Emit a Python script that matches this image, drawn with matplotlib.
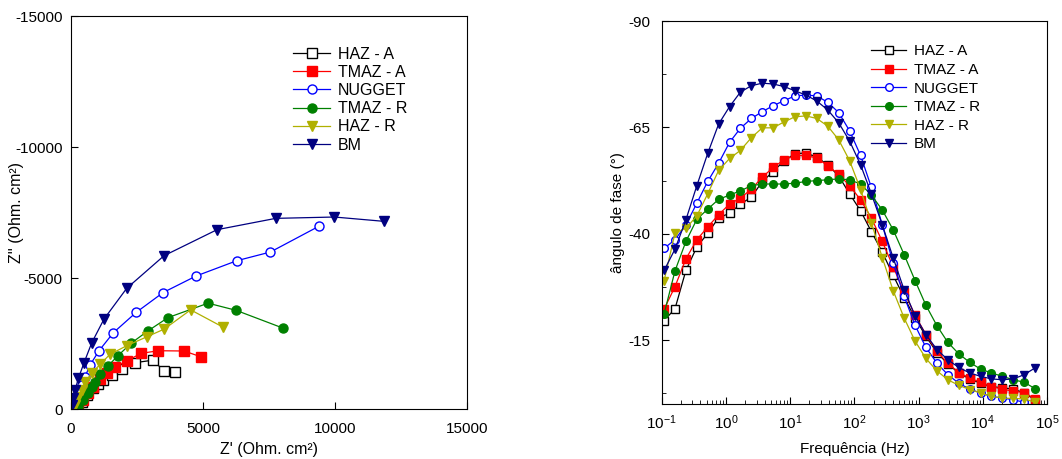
import matplotlib.pyplot as plt
from matplotlib.ticker import FixedLocator, LogLocator, NullFormatter

plt.rcParams['font.family'] = ['Liberation Sans', 'DejaVu Sans']
plt.rcParams['mathtext.fontset'] = 'custom'
plt.rcParams['mathtext.rm'] = 'Liberation Sans'
plt.rcParams['mathtext.it'] = 'Liberation Sans:italic'
plt.rcParams['mathtext.bf'] = 'Liberation Sans:bold'
plt.rcParams['axes.unicode_minus'] = False

# ---- Nyquist data (Z', Z'') ----
haz_a_re = [214, 404, 594, 846, 1035, 1225, 1541, 1920, 2405, 3106, 3534, 3939]
haz_a_im = [-27, -280, -534, -789, -942, -1107, -1297, -1540, -1767, -1864, -1437, -1405]
tmaz_a_re = [160, 278, 466, 657, 846, 1098, 1352, 1667, 2110, 2660, 3307, 4280, 4913]
tmaz_a_im = [-10, -27, -344, -599, -851, -1133, -1361, -1602, -1838, -2125, -2225, -2214, -1996]
nugget_re = [60, 152, 214, 278, 404, 530, 720, 1061, 1603, 2462, 3490, 4735, 6276, 7550, 9406]
nugget_im = [-50, -153, -408, -660, -916, -1233, -1679, -2226, -2913, -3684, -4447, -5076, -5660, -5992, -6985]
tmaz_r_re = [150, 278, 466, 657, 783, 909, 1098, 1400, 1770, 2285, 2915, 3675, 5190, 6250, 8018]
tmaz_r_im = [-30, -88, -344, -599, -851, -1042, -1336, -1647, -2028, -2520, -2983, -3490, -4040, -3767, -3092]
haz_r_re = [152, 278, 404, 530, 783, 1098, 1477, 2110, 2880, 3534, 4530, 5746]
haz_r_im = [-153, -470, -725, -1042, -1361, -1706, -2088, -2416, -2760, -3053, -3785, -3130]
bm_re = [25, 88, 152, 278, 492, 783, 1250, 2108, 3523, 5530, 7753, 9975, 11856]
bm_im = [-153, -408, -725, -1171, -1767, -2525, -3436, -4606, -5852, -6845, -7277, -7328, -7163]

# ---- Bode phase data ----
freq = [0.109, 0.161, 0.238, 0.352, 0.520, 0.770, 1.14, 1.68, 2.49, 3.68, 5.44, 8.05,
        11.9, 17.6, 26.0, 38.5, 56.9, 84.2, 125, 184, 272, 403, 596, 881, 1300, 1930,
        2850, 4220, 6240, 9230, 13650, 20200, 29900, 44200, 65300]
ph_haz_a = [-19.6, -22.4, -31.4, -36.9, -40.1, -43.8, -44.8, -47.0, -48.6, -52.3, -54.6, -57.2,
            -58.8, -59.0, -58.0, -56.2, -53.6, -49.4, -45.4, -40.5, -35.7, -30.2, -25.0, -20.2,
            -15.9, -12.1, -9.4, -7.3, -5.9, -4.9, -4.1, -3.8, -3.5, -2.6, -1.0]
ph_tmaz_a = [-22.3, -27.6, -34.1, -38.6, -41.6, -44.5, -47.0, -48.4, -50.5, -53.3, -55.6, -57.4,
             -58.4, -58.4, -57.8, -56.0, -54.0, -51.3, -48.0, -43.7, -38.2, -32.2, -26.3, -20.9,
             -16.3, -12.4, -9.6, -7.4, -6.1, -5.1, -4.1, -3.5, -3.0, -2.7, -1.2]
ph_nugget = [-36.6, -38.6, -42.1, -47.2, -52.3, -56.6, -61.5, -64.8, -67.1, -68.7, -70.1, -71.3,
             -72.4, -72.6, -72.4, -70.9, -68.5, -64.2, -58.4, -50.9, -42.1, -33.1, -25.3, -18.5,
             -13.3, -9.6, -6.9, -4.9, -3.5, -2.6, -1.8, -1.4, -1.0, -0.4, 0.7]
ph_tmaz_r = [-21.2, -31.3, -38.2, -43.4, -45.8, -48.1, -49.1, -50.1, -51.3, -51.7, -51.7, -51.7,
             -51.9, -52.3, -52.5, -52.7, -52.9, -52.7, -51.7, -49.1, -45.6, -40.9, -35.1, -29.0,
             -23.2, -18.4, -14.5, -11.8, -9.8, -8.2, -7.3, -6.5, -5.7, -5.1, -3.6]
ph_haz_r = [-29.0, -40.2, -41.3, -44.2, -49.4, -54.9, -57.7, -59.6, -62.6, -64.9, -64.9, -66.3,
            -67.5, -67.7, -67.1, -65.3, -62.1, -57.2, -50.4, -42.6, -34.4, -26.6, -20.2, -14.8,
            -10.7, -7.8, -5.7, -4.4, -3.4, -2.6, -1.8, -1.4, -1.3, -1.2, -0.4]
ph_bm = [-31.4, -36.4, -43.3, -51.3, -58.9, -65.8, -69.9, -73.3, -74.8, -75.4, -75.2, -74.6,
         -73.6, -72.6, -71.2, -69.1, -66.1, -61.8, -56.2, -49.4, -42.1, -34.3, -26.8, -20.7,
         -16.3, -12.8, -10.4, -8.6, -7.3, -6.5, -5.9, -5.7, -5.9, -6.9, -8.5]

labels = ['HAZ - A', 'TMAZ - A', 'NUGGET', 'TMAZ - R', 'HAZ - R', 'BM']
colors = ['#000000', '#ff0000', '#0000ff', '#008000', '#b0b000', '#000080']
markers = ['s', 's', 'o', 'o', 'v', 'v']
faces = ['white', '#ff0000', 'white', '#008000', '#b0b000', '#000080']

nyq = [(haz_a_re, haz_a_im), (tmaz_a_re, tmaz_a_im), (nugget_re, nugget_im),
       (tmaz_r_re, tmaz_r_im), (haz_r_re, haz_r_im), (bm_re, bm_im)]
phases = [ph_haz_a, ph_tmaz_a, ph_nugget, ph_tmaz_r, ph_haz_r, ph_bm]

fig = plt.figure(figsize=(10.62, 4.59), dpi=100)

# Nyquist
ax1 = fig.add_axes([0.0669, 0.1089, 0.3729, 0.8562])
for (re, im), lab, c, m, fc in zip(nyq, labels, colors, markers, faces):
    ax1.plot(re, im, '-', color=c, marker=m, mfc=fc, mec=c, ms=6.5, lw=0.9, label=lab)
ax1.set_xlim(0, 15000)
ax1.set_ylim(0, -15000)
ax1.set_xticks([0, 5000, 10000, 15000])
ax1.set_yticks([0, -5000, -10000, -15000])
ax1.tick_params(direction='in', labelsize=11, length=5)
ax1.tick_params(axis='x', pad=9)
ax1.tick_params(axis='y', pad=6)
ax1.set_xlabel("Z' (Ohm. cm²)", fontsize=11.5)
ax1.set_ylabel("Z'' (Ohm. cm²)", fontsize=11.5)
ax1.xaxis.set_label_coords(0.5, -0.085)
ax1.yaxis.set_label_coords(-0.118, 0.5)
ax1.legend(loc='upper left', bbox_to_anchor=(0.561, 0.922), frameon=False, fontsize=11.5,
           borderpad=0, handlelength=2.3, handletextpad=0.5, labelspacing=0.2,
           borderaxespad=0)

# Bode phase
ax2 = fig.add_axes([0.6231, 0.1198, 0.3628, 0.8344])
for ph, lab, c, m, fc in zip(phases, labels, colors, markers, faces):
    ax2.plot(freq, ph, '-', color=c, marker=m, mfc=fc, mec=c, ms=5.5, lw=0.9, label=lab)
ax2.set_xscale('log')
ax2.set_xlim(0.1, 1e5)
ax2.set_ylim(0, -90)
ax2.yaxis.set_major_locator(FixedLocator([-90, -65, -40, -15]))
ax2.yaxis.set_minor_locator(FixedLocator([-77.5, -52.5, -27.5, -2.5]))
ax2.xaxis.set_major_locator(LogLocator(base=10, numticks=10))
ax2.xaxis.set_minor_locator(LogLocator(base=10, subs=range(2, 10), numticks=20))
ax2.xaxis.set_minor_formatter(NullFormatter())
ax2.tick_params(which='both', direction='in', labelsize=11)
ax2.tick_params(which='major', length=5)
ax2.tick_params(which='minor', length=3)
ax2.tick_params(axis='x', which='major', pad=7)
ax2.tick_params(axis='y', which='major', pad=8)
ax2.set_xlabel('Frequência (Hz)', fontsize=11)
ax2.set_ylabel('ângulo de fase (°)', fontsize=11)
ax2.xaxis.set_label_coords(0.5, -0.1)
ax2.yaxis.set_label_coords(-0.095, 0.5)
ax2.legend(loc='upper left', bbox_to_anchor=(0.543, 0.939), frameon=False, fontsize=11,
           borderpad=0, handlelength=2.3, handletextpad=0.5, labelspacing=0.3,
           borderaxespad=0)

fig.savefig('out.png', dpi=100)
